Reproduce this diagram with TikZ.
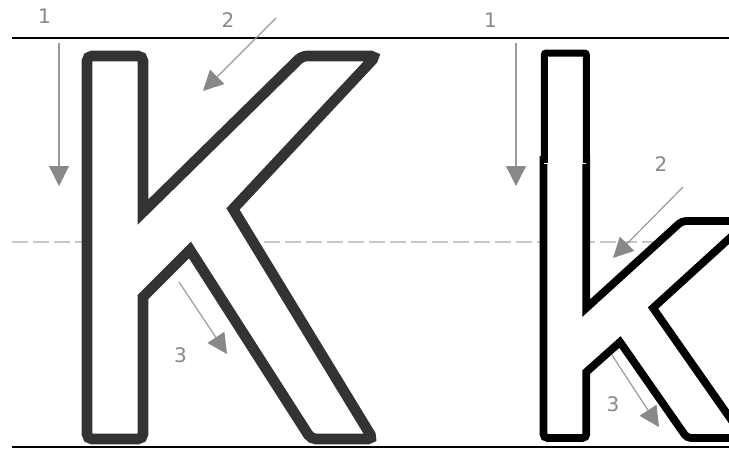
\documentclass[tikz,border=0pt]{standalone}
\usepackage{fontspec}
\setmainfont{DejaVu Sans}
\usetikzlibrary{arrows.meta}
\definecolor{strokegray}{HTML}{333333}
\definecolor{arrowgray}{HTML}{9A9A9A}
\definecolor{tipgray}{HTML}{888888}
\definecolor{labelgray}{HTML}{888888}
\definecolor{dashgray}{HTML}{C8C8C8}

\begin{document}
\begin{tikzpicture}[
  x=1pt, y=-1pt,
  upperk/.style={draw=strokegray, line width=10.6pt, fill=white},
  lowerk/.style={draw=black, line width=7.8pt, fill=white},
  guide/.style={draw=black, line width=1.6pt},
  midguide/.style={draw=dashgray, line width=1.5pt, dash pattern=on 16pt off 5pt},
  garrow/.style={-{Triangle[length=20pt, width=20pt, color=tipgray]}, draw=arrowgray, line width=1.2pt},
  glabel/.style={text=labelgray, inner sep=0pt, font=\fontsize{20}{20}\selectfont}
]
\useasboundingbox (0,0) rectangle (729,450);
\clip (0,0) rectangle (729,450);

% guide lines
\draw[guide] (12,38) -- (729,38);
\draw[guide] (12,447) -- (729,447);
\draw[midguide] (12,242) -- (729,242);

% capital K
\draw[upperk] (87,250) [rounded corners=5] -- (87,56) -- (143,56)
  [sharp corners] -- (143,212) [rounded corners=5] -- (302,56) -- (376,56)
  [sharp corners] -- (233,209) [rounded corners=5] -- (373,439) -- (311,439)
  [sharp corners] -- (190,250) -- (143,297) [rounded corners=5] -- (143,439) -- (87,439)
  [sharp corners] -- cycle;

% small k
\draw[lowerk] (543.5,156) [rounded corners=4] -- (543.5,438) -- (586.3,438)
  [sharp corners] -- (586.3,372) -- (620,342) [rounded corners=4] -- (687,438) -- (744,438)
  [sharp corners] -- (653,308) [rounded corners=4] -- (748.5,221) -- (682,221)
  [sharp corners] -- (586.3,308) -- (586.3,156);
\draw[lowerk, line width=7pt] (544.3,163) [rounded corners=2] -- (544.3,53) -- (586.3,53)
  [sharp corners] -- (586.3,163);
\draw[white, line width=0.8pt] (544.3,163) -- (586.3,163);

% strokes of K
\coordinate (ua1s) at (59,43);   \coordinate (ua1e) at (59,186);
\coordinate (ua2s) at (276,18);  \coordinate (ua2e) at (203,91);
\coordinate (ua3s) at (179,282); \coordinate (ua3e) at (227,354);
\draw[garrow] (ua1s) -- (ua1e);
\draw[garrow] (ua2s) -- (ua2e);
\draw[garrow] (ua3s) -- (ua3e);
\node[glabel] (ul1) at (44.5,16.5) {1};
\node[glabel] (ul2) at (228,20.5) {2};
\node[glabel] (ul3) at (180.5,355) {3};

% strokes of k
\coordinate (la1s) at (516,43);  \coordinate (la1e) at (516,186);
\coordinate (la2s) at (683,187); \coordinate (la2e) at (613,258);
\coordinate (la3s) at (612,355); \coordinate (la3e) at (659,427);
\draw[garrow] (la1s) -- (la1e);
\draw[garrow] (la2s) -- (la2e);
\draw[garrow] (la3s) -- (la3e);
\node[glabel] (ll1) at (490.5,20) {1};
\node[glabel] (ll2) at (661,164.5) {2};
\node[glabel] (ll3) at (613,404.5) {3};
\end{tikzpicture}
\end{document}
